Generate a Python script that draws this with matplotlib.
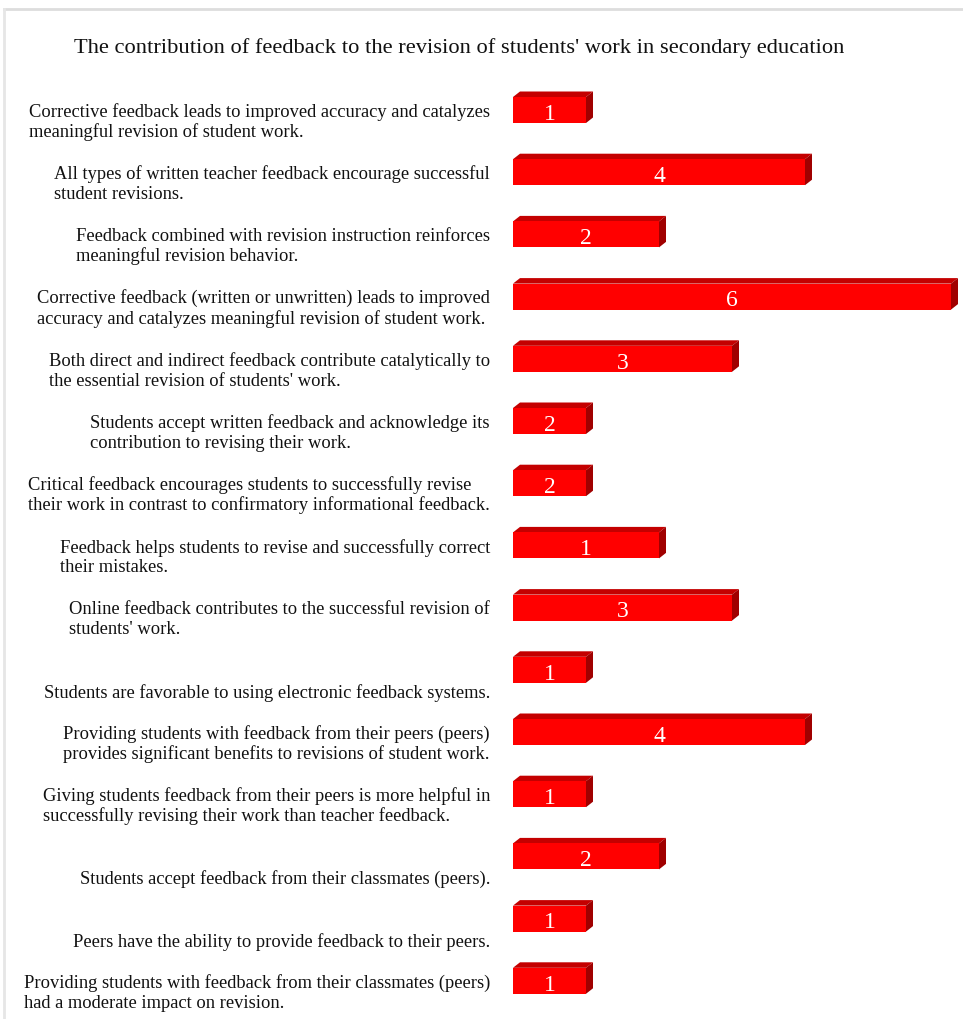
import matplotlib.pyplot as plt
from matplotlib.patches import Polygon
from matplotlib.lines import Line2D

title = "The contribution of feedback to the revision of students' work in secondary education"

statements = [
    "Corrective feedback leads to improved accuracy and catalyzes\nmeaningful revision of student work.",
    "All types of written teacher feedback encourage successful\nstudent revisions.",
    "Feedback combined with revision instruction reinforces\nmeaningful revision behavior.",
    "Corrective feedback (written or unwritten) leads to improved\naccuracy and catalyzes meaningful revision of student work.",
    "Both direct and indirect feedback contribute catalytically to\nthe essential revision of students' work.",
    "Students accept written feedback and acknowledge its\ncontribution to revising their work.",
    "Critical feedback encourages students to successfully revise\ntheir work in contrast to confirmatory informational feedback.",
    "Feedback helps students to revise and successfully correct\ntheir mistakes.",
    "Online feedback contributes to the successful revision of\nstudents' work.",
    "Students are favorable to using electronic feedback systems.",
    "Providing students with feedback from their peers (peers)\nprovides significant benefits to revisions of student work.",
    "Giving students feedback from their peers is more helpful in\nsuccessfully revising their work than teacher feedback.",
    "Students accept feedback from their classmates (peers).",
    "Peers have the ability to provide feedback to their peers.",
    "Providing students with feedback from their classmates (peers)\nhad a moderate impact on revision.",
]
# bar lengths as drawn, and the numbers printed on them
bar_values = [1, 4, 2, 6, 3, 1, 1, 2, 3, 1, 4, 1, 2, 1, 1]
bar_labels = [1, 4, 2, 6, 3, 2, 2, 1, 3, 1, 4, 1, 2, 1, 1]

plt.rcParams['font.family'] = ['Liberation Serif', 'DejaVu Serif']

W, H = 963, 1019
fig = plt.figure(figsize=(W / 100, H / 100), dpi=100)
ax = fig.add_axes([0, 0, 1, 1])

x0 = 513      # pixel of value 0
y0 = 110      # pixel of first row
px_x = 73.0   # pixels per unit
px_y = 62.2   # pixels per row
ax.set_xlim(-x0 / px_x, (W - x0) / px_x)
ax.set_ylim((H - y0) / px_y, -y0 / px_y)
ax.axis('off')

rows = list(range(len(statements)))
h = 26 / px_y
dx = 7 / px_x
dy = 5.5 / px_y

ax.barh(rows, bar_values, height=h, color='#ff0000', zorder=3)
for i, v, lab in zip(rows, bar_values, bar_labels):
    top = i - h / 2
    bot = i + h / 2
    # fake 3d: top face and right side
    ax.add_patch(Polygon([(0, top), (dx, top - dy), (v + dx, top - dy), (v, top)],
                         closed=True, color='#c40000', lw=0, zorder=2))
    ax.add_patch(Polygon([(v, top), (v + dx, top - dy), (v + dx, bot - dy), (v, bot)],
                         closed=True, color='#a00000', lw=0, zorder=2))
    ax.text(v / 2, i + 0.07, str(lab), color='white', fontsize=17,
            ha='center', va='center', zorder=4)

for i, s in zip(rows, statements):
    off = 12 / px_y if '\n' in s else 23 / px_y
    ax.text(-23 / px_x, i + off, s, ha='right', va='center', multialignment='left',
            fontsize=13.3, color='#111111', linespacing=1.2)

ax.text((459 - x0) / px_x, (48 - y0) / px_y, title, ha='center', va='center',
        fontsize=16.2, color='#111111')

# light frame on top and left
fig.add_artist(Line2D([4 / W, 1], [1 - 9 / H, 1 - 9 / H], color='#dddddd', lw=2))
fig.add_artist(Line2D([4 / W, 4 / W], [0, 1 - 9 / H], color='#e6e6e6', lw=2))

fig.savefig('out.png', dpi=100)
